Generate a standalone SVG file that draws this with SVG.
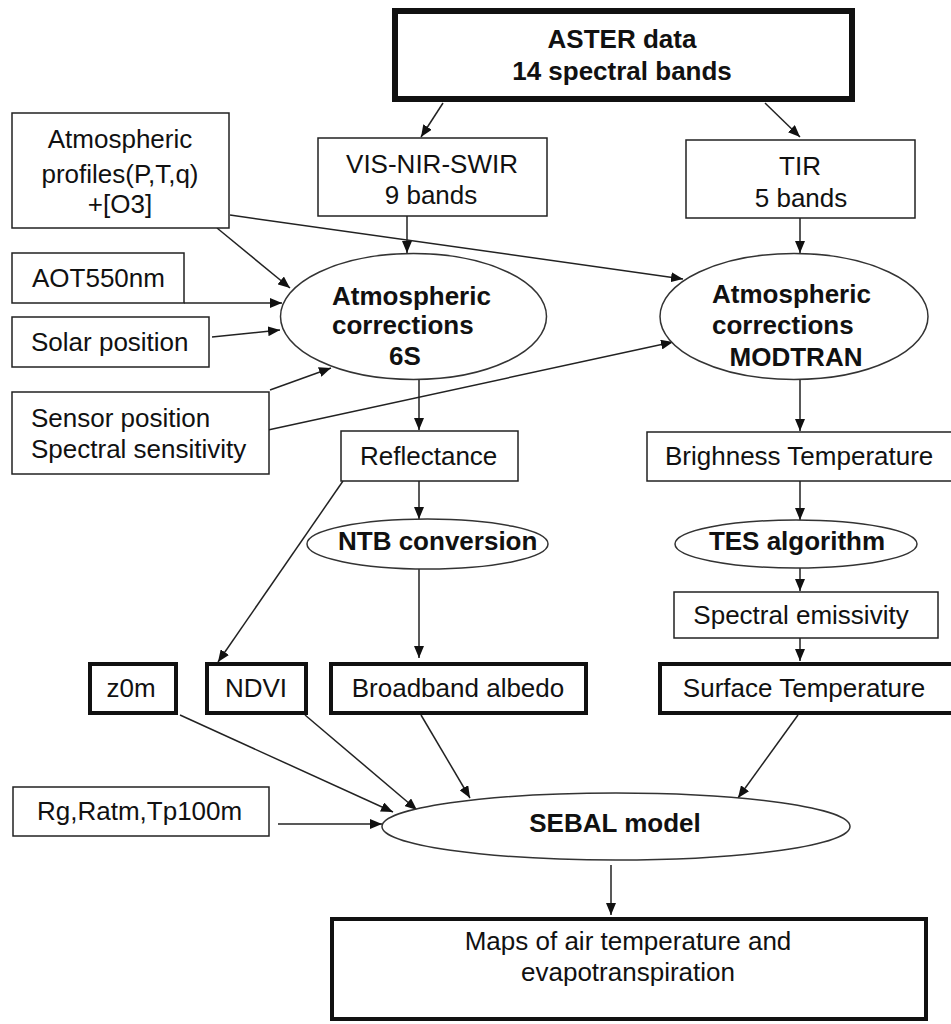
<svg xmlns="http://www.w3.org/2000/svg" width="951" height="1024" viewBox="0 0 951 1024">
<style>
text{font-family:"Liberation Sans",Arial,sans-serif;font-size:26px;fill:#111}
.b{font-weight:bold}
.m{text-anchor:middle}
.box{fill:#fff;stroke:#222;stroke-width:1.5}
.thick{fill:#fff;stroke:#111;stroke-width:4}
.ell{fill:#fff;stroke:#333;stroke-width:1.5}
.c line{stroke:#222;stroke-width:1.5;marker-end:url(#ah)}
</style>
<defs>
<marker id="ah" viewBox="0 0 12 10" refX="12" refY="5" markerWidth="12" markerHeight="10" markerUnits="userSpaceOnUse" orient="auto">
<path d="M0,0 L12,5 L0,10 z" fill="#111"/>
</marker>
</defs>
<rect width="951" height="1024" fill="#fff"/>

<g class="c" id="connectors">
<line x1="443" y1="103" x2="421" y2="137"/>
<line x1="765" y1="103" x2="800" y2="137"/>
<line x1="407" y1="216" x2="407" y2="253"/>
<line x1="800" y1="218" x2="800" y2="253"/>
<line x1="217" y1="228" x2="290" y2="288"/>
<line x1="230" y1="215" x2="683" y2="279"/>
<line x1="184" y1="303" x2="282" y2="303"/>
<line x1="212" y1="337" x2="280" y2="330"/>
<line x1="270" y1="390" x2="331" y2="368"/>
<line x1="268" y1="430" x2="673" y2="342"/>
<line x1="419" y1="380" x2="419" y2="430"/>
<line x1="800" y1="380" x2="800" y2="431"/>
<line x1="419" y1="481" x2="419" y2="519"/>
<line x1="343" y1="481" x2="218" y2="662"/>
<line x1="419" y1="569" x2="419" y2="658"/>
<line x1="800" y1="481" x2="800" y2="520"/>
<line x1="800" y1="568" x2="800" y2="591"/>
<line x1="800" y1="638" x2="800" y2="661"/>
<line x1="180" y1="715" x2="393" y2="812"/>
<line x1="305" y1="715" x2="417" y2="810"/>
<line x1="421" y1="715" x2="470" y2="798"/>
<line x1="278" y1="824" x2="382" y2="824"/>
<line x1="798" y1="715" x2="738" y2="798"/>
<line x1="611" y1="865" x2="611" y2="915"/>
</g>

<g id="aster">
<rect x="395" y="11" width="457" height="88" fill="#fff" stroke="#111" stroke-width="6"/>
<text class="b m" x="622" y="48">ASTER data</text>
<text class="b m" x="622" y="80">14 spectral bands</text>
</g>

<g id="atmprof">
<rect class="box" x="12" y="113" width="217" height="115"/>
<text class="m" x="120" y="148">Atmospheric</text>
<text class="m" x="120" y="183">profiles(P,T,q)</text>
<text class="m" x="120" y="213">+[O3]</text>
</g>

<g id="vis">
<rect class="box" x="318" y="138" width="229" height="78"/>
<text class="m" x="432" y="173">VIS-NIR-SWIR</text>
<text class="m" x="431" y="204">9 bands</text>
</g>

<g id="tir">
<rect class="box" x="686" y="140" width="229" height="78"/>
<text class="m" x="800" y="175">TIR</text>
<text class="m" x="801" y="207">5 bands</text>
</g>

<g id="aot">
<rect class="box" x="12" y="253" width="172" height="50"/>
<text x="32" y="287">AOT550nm</text>
</g>

<g id="solar">
<rect class="box" x="12" y="317" width="197" height="50"/>
<text x="31" y="351">Solar position</text>
</g>

<g id="sensor">
<rect class="box" x="12" y="392" width="257" height="82"/>
<text x="31" y="427">Sensor position</text>
<text x="31" y="458">Spectral sensitivity</text>
</g>

<g id="corr6s">
<ellipse class="ell" cx="413.5" cy="316.5" rx="133" ry="63"/>
<text class="b" x="332" y="305">Atmospheric</text>
<text class="b" x="332" y="334">corrections</text>
<text class="b m" x="405" y="365">6S</text>
</g>

<g id="corrmodtran">
<ellipse class="ell" cx="794" cy="316.5" rx="134" ry="63"/>
<text class="b" x="712" y="303">Atmospheric</text>
<text class="b" x="712" y="334">corrections</text>
<text class="b m" x="796" y="366">MODTRAN</text>
</g>

<g id="reflectance">
<rect class="box" x="341" y="431" width="177" height="50"/>
<text x="360" y="465">Reflectance</text>
</g>

<g id="brighness">
<rect class="box" x="647" y="432" width="312" height="49"/>
<text x="665" y="465">Brighness Temperature</text>
</g>

<g id="ntb">
<ellipse class="ell" cx="427.5" cy="544" rx="120.5" ry="25"/>
<text class="b" x="338" y="550">NTB conversion</text>
</g>

<g id="tes">
<ellipse class="ell" cx="796" cy="544" rx="121" ry="24"/>
<text class="b m" x="797" y="550">TES algorithm</text>
</g>

<g id="emissivity">
<rect class="box" x="674" y="592" width="264" height="46"/>
<text class="m" x="801" y="624">Spectral emissivity</text>
</g>

<g id="z0m">
<rect class="thick" x="90" y="664" width="86" height="49"/>
<text class="m" x="131" y="697">z0m</text>
</g>

<g id="ndvi">
<rect class="thick" x="207" y="664" width="99" height="49"/>
<text class="m" x="256" y="697">NDVI</text>
</g>

<g id="albedo">
<rect class="thick" x="331" y="664" width="255" height="49"/>
<text class="m" x="458" y="697">Broadband albedo</text>
</g>

<g id="surface">
<rect class="thick" x="660" y="664" width="300" height="49"/>
<text class="m" x="804" y="697">Surface Temperature</text>
</g>

<g id="rg">
<rect class="box" x="13" y="787" width="256" height="49"/>
<text x="37" y="820">Rg,Ratm,Tp100m</text>
</g>

<g id="sebal">
<ellipse class="ell" cx="616" cy="826.5" rx="234" ry="33.5"/>
<text class="b m" x="615" y="832">SEBAL model</text>
</g>

<g id="maps">
<rect class="thick" x="332" y="919" width="594" height="100"/>
<text class="m" x="628" y="950">Maps of air temperature and</text>
<text class="m" x="628" y="981">evapotranspiration</text>
</g>
</svg>
